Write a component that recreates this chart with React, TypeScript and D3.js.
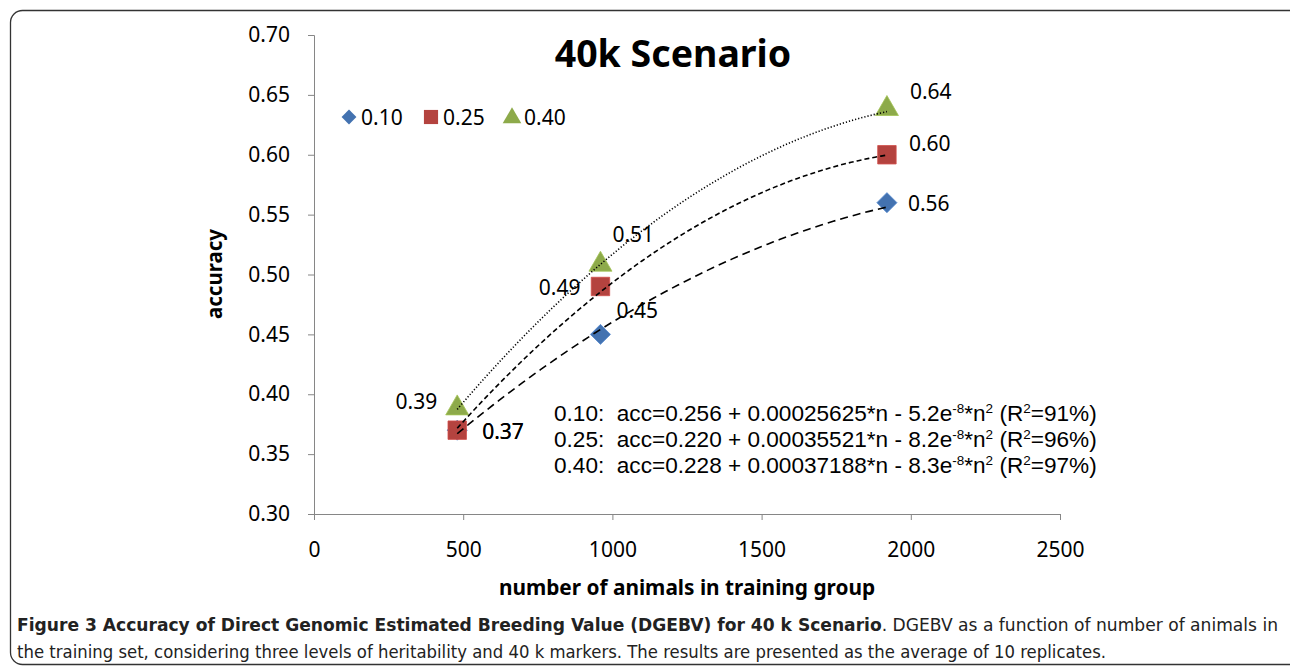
import React, { useRef, useEffect } from 'react';
import * as d3 from 'd3';

// number of animals in training group
const animals = [480, 960, 1920];

// heritability levels
const seriesNames = ['0.10', '0.25', '0.40'];
const acc010 = [0.37, 0.45, 0.56];
const acc025 = [0.37, 0.49, 0.60];
const acc040 = [0.39, 0.51, 0.64];

// quadratic trendline coefficients: acc = a + b*n - c*n^2
const trendA = [0.256, 0.220, 0.228];
const trendB = [0.00025625, 0.00035521, 0.00037188];
const trendC = [5.2e-8, 8.2e-8, 8.3e-8];
const trendText = [
  ['0.10:  acc=0.256 + 0.00025625*n - 5.2e', '*n', ' (R', '=91%)'],
  ['0.25:  acc=0.220 + 0.00035521*n - 8.2e', '*n', ' (R', '=96%)'],
  ['0.40:  acc=0.228 + 0.00037188*n - 8.3e', '*n', ' (R', '=97%)'],
];

const xTicks = [0, 500, 1000, 1500, 2000, 2500];
const yTicks = [0.3, 0.35, 0.4, 0.45, 0.5, 0.55, 0.6, 0.65, 0.7];

const colors = ['#4372B0', '#B4433F', '#8DAA4A'];
const dashes = ['8,5', '5,3', '1.2,2'];
const shapes = [d3.symbolSquare, d3.symbolSquare, d3.symbolTriangle];
const rotations = [45, 0, 0];
const markerShift = [0, 0, 2];

// label offsets (px) relative to each point
const labelOffsets = [
  [[25, 1, 'start'], [16, -24, 'start'], [21, 0, 'start']],
  [[25, 1, 'start'], [-20, 1, 'end'], [22, -12, 'start']],
  [[-20, -5, 'end'], [12, -29, 'start'], [23, -16, 'start']],
];

const App = () => {
  const ref = useRef(null);

  useEffect(() => {
    const svg = d3.select(ref.current);
    svg.selectAll('*').remove();

    const font = '"Noto Sans", sans-serif';
    const x = d3.scaleLinear().domain([0, 2500]).range([314, 1060]);
    const y = d3.scaleLinear().domain([0.3, 0.7]).range([514, 35]);
    const values = [acc010, acc025, acc040];

    // frame
    svg.append('rect')
      .attr('x', 10.5).attr('y', 10.5)
      .attr('width', 1300).attr('height', 654)
      .attr('rx', 12)
      .attr('fill', 'none')
      .attr('stroke', '#333')
      .attr('stroke-width', 1.3);

    // axes
    const yAxis = svg.append('g')
      .attr('transform', 'translate(314,0)')
      .call(d3.axisLeft(y).tickValues(yTicks).tickSize(6).tickPadding(18).tickFormat(d3.format('.2f')));
    const xAxis = svg.append('g')
      .attr('transform', 'translate(0,514)')
      .call(d3.axisBottom(x).tickValues(xTicks).tickSize(6).tickPadding(22).tickFormat(d3.format('d')));
    [yAxis, xAxis].forEach(a => {
      a.select('.domain').attr('stroke', '#868686');
      a.selectAll('.tick line').attr('stroke', '#868686');
      a.selectAll('.tick text')
        .attr('fill', '#000')
        .style('font-family', font)
        .style('font-size', '21px');
    });

    // title
    svg.append('text')
      .attr('x', 673).attr('y', 67)
      .attr('text-anchor', 'middle')
      .style('font-family', font)
      .style('font-weight', 'bold')
      .style('font-size', '37.5px')
      .text('40k Scenario');

    svg.append('text')
      .attr('transform', 'translate(222,274) rotate(-90)')
      .attr('text-anchor', 'middle')
      .style('font-family', font)
      .style('font-weight', 'bold')
      .style('font-size', '20.5px')
      .text('accuracy');

    svg.append('text')
      .attr('x', 687).attr('y', 595)
      .attr('text-anchor', 'middle')
      .style('font-family', font)
      .style('font-weight', 'bold')
      .style('font-size', '20.8px')
      .text('number of animals in training group');

    // markers
    values.forEach((vals, i) => {
      const sym = d3.symbol().type(shapes[i]).size(i === 0 ? 200 : i === 1 ? 340 : 230);
      svg.append('g').selectAll('path')
        .data(vals)
        .enter()
        .append('path')
        .attr('transform', (d, j) => `translate(${x(animals[j])},${y(d) + markerShift[i]}) rotate(${rotations[i]})`)
        .attr('d', sym())
        .attr('fill', colors[i])
        .attr('stroke', d3.color(colors[i]).brighter(0.4))
        .attr('stroke-width', 0.8);
    });

    // trendlines
    values.forEach((vals, i) => {
      const ns = d3.range(animals[0], animals[animals.length - 1] + 1, 20);
      const line = d3.line()
        .x(n => x(n))
        .y(n => y(trendA[i] + trendB[i] * n - trendC[i] * n * n))
        .curve(d3.curveBasis);
      svg.append('path')
        .datum(ns)
        .attr('fill', 'none')
        .attr('stroke', '#000')
        .attr('stroke-width', 1.6)
        .attr('stroke-dasharray', dashes[i])
        .attr('d', line);
    });

    // data labels
    values.forEach((vals, i) => {
      svg.append('g').selectAll('text')
        .data(vals)
        .enter()
        .append('text')
        .attr('x', (d, j) => x(animals[j]) + labelOffsets[i][j][0])
        .attr('y', (d, j) => y(d) + labelOffsets[i][j][1])
        .attr('text-anchor', (d, j) => labelOffsets[i][j][2])
        .attr('dominant-baseline', 'central')
        .style('font-family', font)
        .style('font-size', '21px')
        .text(d => d3.format('.2f')(d));
    });

    // legend
    const legX = [349, 431, 512];
    seriesNames.forEach((name, i) => {
      const sym = d3.symbol().type(shapes[i]).size(i === 0 ? 110 : i === 1 ? 200 : 150);
      svg.append('path')
        .attr('transform', `translate(${legX[i]},${117 + markerShift[i] / 2}) rotate(${rotations[i]})`)
        .attr('d', sym())
        .attr('fill', colors[i]);
      svg.append('text')
        .attr('x', legX[i] + 12).attr('y', 117)
        .attr('dominant-baseline', 'central')
        .style('font-family', font)
        .style('font-size', '21px')
        .text(name);
    });

    // trendline equations
    trendText.forEach((parts, i) => {
      const t = svg.append('text')
        .attr('x', 554).attr('y', 421 + i * 26)
        .style('font-family', '"Liberation Sans", Arial, sans-serif')
        .style('font-size', '22.6px')
        .style('white-space', 'pre');
      t.append('tspan').text(parts[0]);
      t.append('tspan').attr('dy', -8).style('font-size', '13.5px').text('-8');
      t.append('tspan').attr('dy', 8).text(parts[1]);
      t.append('tspan').attr('dy', -8).style('font-size', '13.5px').text('2');
      t.append('tspan').attr('dy', 8).text(parts[2]);
      t.append('tspan').attr('dy', -8).style('font-size', '13.5px').text('2');
      t.append('tspan').attr('dy', 8).text(parts[3]);
    });

    // caption
    const cap1 = svg.append('text')
      .attr('x', 17).attr('y', 631)
      .attr('textLength', 1261)
      .attr('lengthAdjust', 'spacingAndGlyphs')
      .style('font-family', '"DejaVu Sans Condensed", "DejaVu Sans", sans-serif')
      .style('font-size', '17.5px')
      .attr('fill', '#222');
    cap1.append('tspan').style('font-weight', 'bold')
      .text('Figure 3 Accuracy of Direct Genomic Estimated Breeding Value (DGEBV) for 40 k Scenario');
    cap1.append('tspan').text('. DGEBV as a function of number of animals in');

    svg.append('text')
      .attr('x', 17).attr('y', 658)
      .attr('textLength', 1089)
      .attr('lengthAdjust', 'spacingAndGlyphs')
      .style('font-family', '"DejaVu Sans Condensed", "DejaVu Sans", sans-serif')
      .style('font-size', '17.5px')
      .attr('fill', '#222')
      .text('the training set, considering three levels of heritability and 40 k markers. The results are presented as the average of 10 replicates.');
  }, []);

  return (
    <svg ref={ref} width={1290} height={669}
      style={{ position: 'absolute', left: 0, top: 0, background: '#fff' }} />
  );
};

export default App;
